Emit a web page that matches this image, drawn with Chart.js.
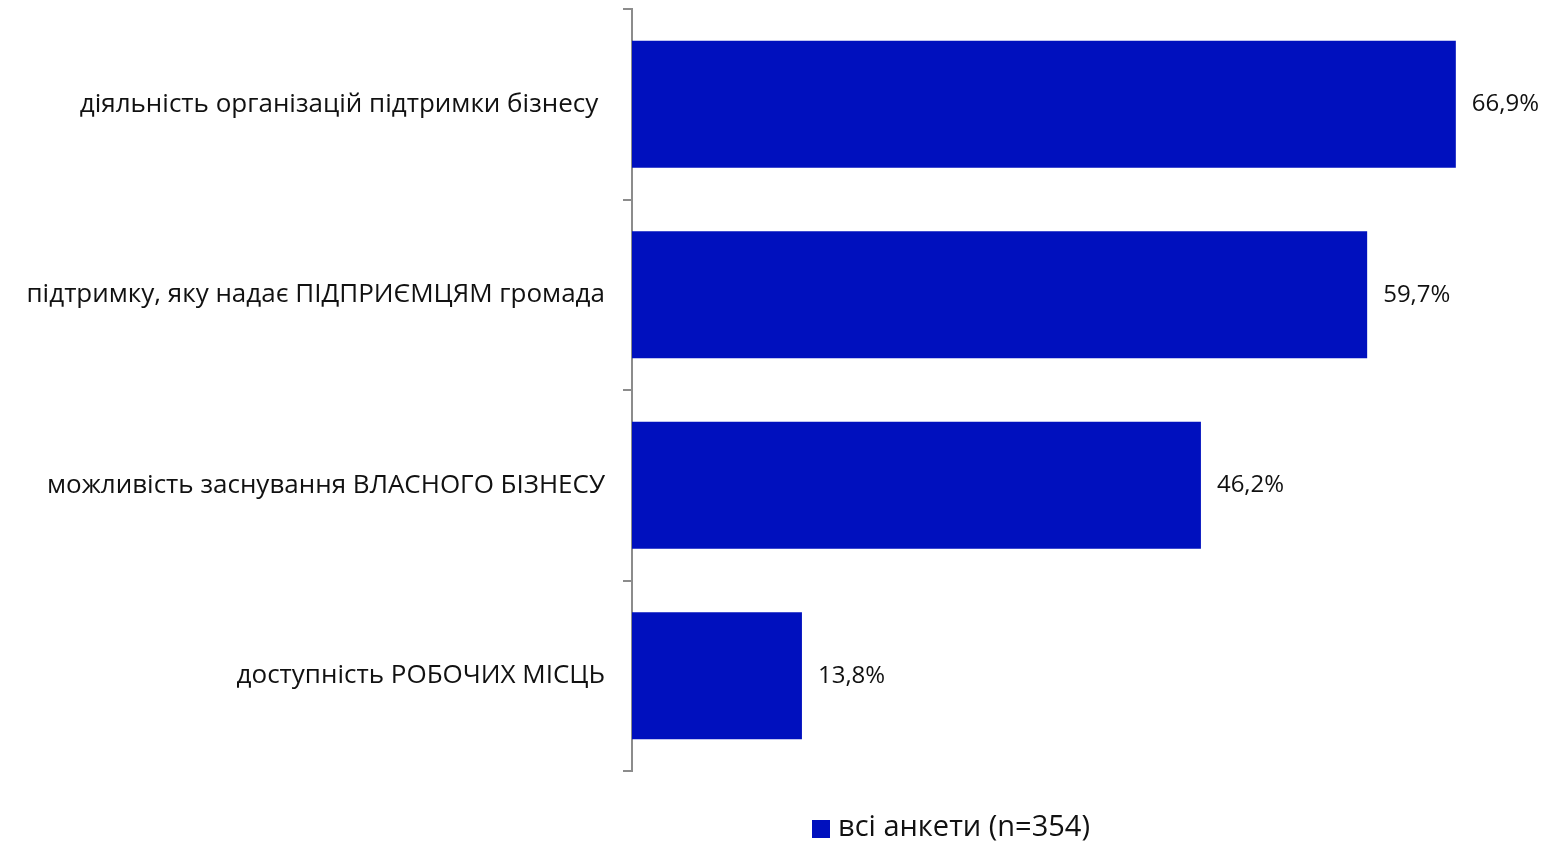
<!DOCTYPE html>
<html>
<head>
<meta charset="utf-8">
<script src="https://cdn.jsdelivr.net/npm/chart.js@4/dist/chart.umd.min.js"></script>
<style>
  html, body { margin: 0; padding: 0; background: #fff; }
  #wrap { width: 1548px; height: 845px; }
</style>
</head>
<body>
<div id="wrap"><canvas id="chart"></canvas></div>
<script>
const categories = [
  'діяльність організацій підтримки бізнесу ',
  'підтримку, яку надає ПІДПРИЄМЦЯМ громада',
  'можливість заснування ВЛАСНОГО БІЗНЕСУ',
  'доступність РОБОЧИХ МІСЦЬ'
];
const values = [66.9, 59.7, 46.2, 13.8];
const seriesLabel = 'всі анкети (n=354)';

const FONT = '"Open Sans", Lato, sans-serif';
const BAR_COLOR = '#0010be';

function fmt(v) {
  return v.toFixed(1).replace('.', ',') + '%';
}

const valueLabels = {
  id: 'valueLabels',
  afterDatasetsDraw(chart) {
    const ctx = chart.ctx;
    const meta = chart.getDatasetMeta(0);
    ctx.save();
    ctx.font = '24px ' + FONT;
    ctx.fillStyle = '#111';
    ctx.textAlign = 'left';
    ctx.textBaseline = 'middle';
    meta.data.forEach((bar, i) => {
      ctx.fillText(fmt(values[i]), bar.x + 16, bar.y);
    });
    ctx.restore();
  }
};

const bottomLegend = {
  id: 'bottomLegend',
  afterDraw(chart) {
    const ctx = chart.ctx;
    ctx.save();
    ctx.fillStyle = BAR_COLOR;
    ctx.fillRect(812, 820, 18, 18);
    ctx.font = '29px ' + FONT;
    ctx.fillStyle = '#111';
    ctx.textAlign = 'left';
    ctx.textBaseline = 'middle';
    ctx.fillText(seriesLabel, 838, 828);
    ctx.restore();
  }
};

new Chart(document.getElementById('chart'), {
  type: 'bar',
  data: {
    labels: categories,
    datasets: [{
      label: seriesLabel,
      data: values,
      backgroundColor: BAR_COLOR,
      barPercentage: 0.667,
      categoryPercentage: 1
    }]
  },
  options: {
    indexAxis: 'y',
    responsive: true,
    maintainAspectRatio: false,
    animation: false,
    layout: { padding: { top: 9, bottom: 74, right: 54, left: 0 } },
    plugins: { legend: { display: false }, tooltip: { enabled: false } },
    scales: {
      x: {
        display: false,
        min: 0,
        max: 70
      },
      y: {
        afterFit(scale) {
          scale.width = 632;
          scale.paddingTop = 0;
          scale.paddingBottom = 0;
        },
        border: { display: true, color: '#8c8c8c', width: 2 },
        grid: { drawOnChartArea: false, drawTicks: true, tickLength: 9, color: '#8c8c8c', lineWidth: 2, offset: true },
        ticks: { color: '#111', font: { family: FONT, size: 26 }, padding: 18 }
      }
    }
  },
  plugins: [valueLabels, bottomLegend]
});
</script>
</body>
</html>
